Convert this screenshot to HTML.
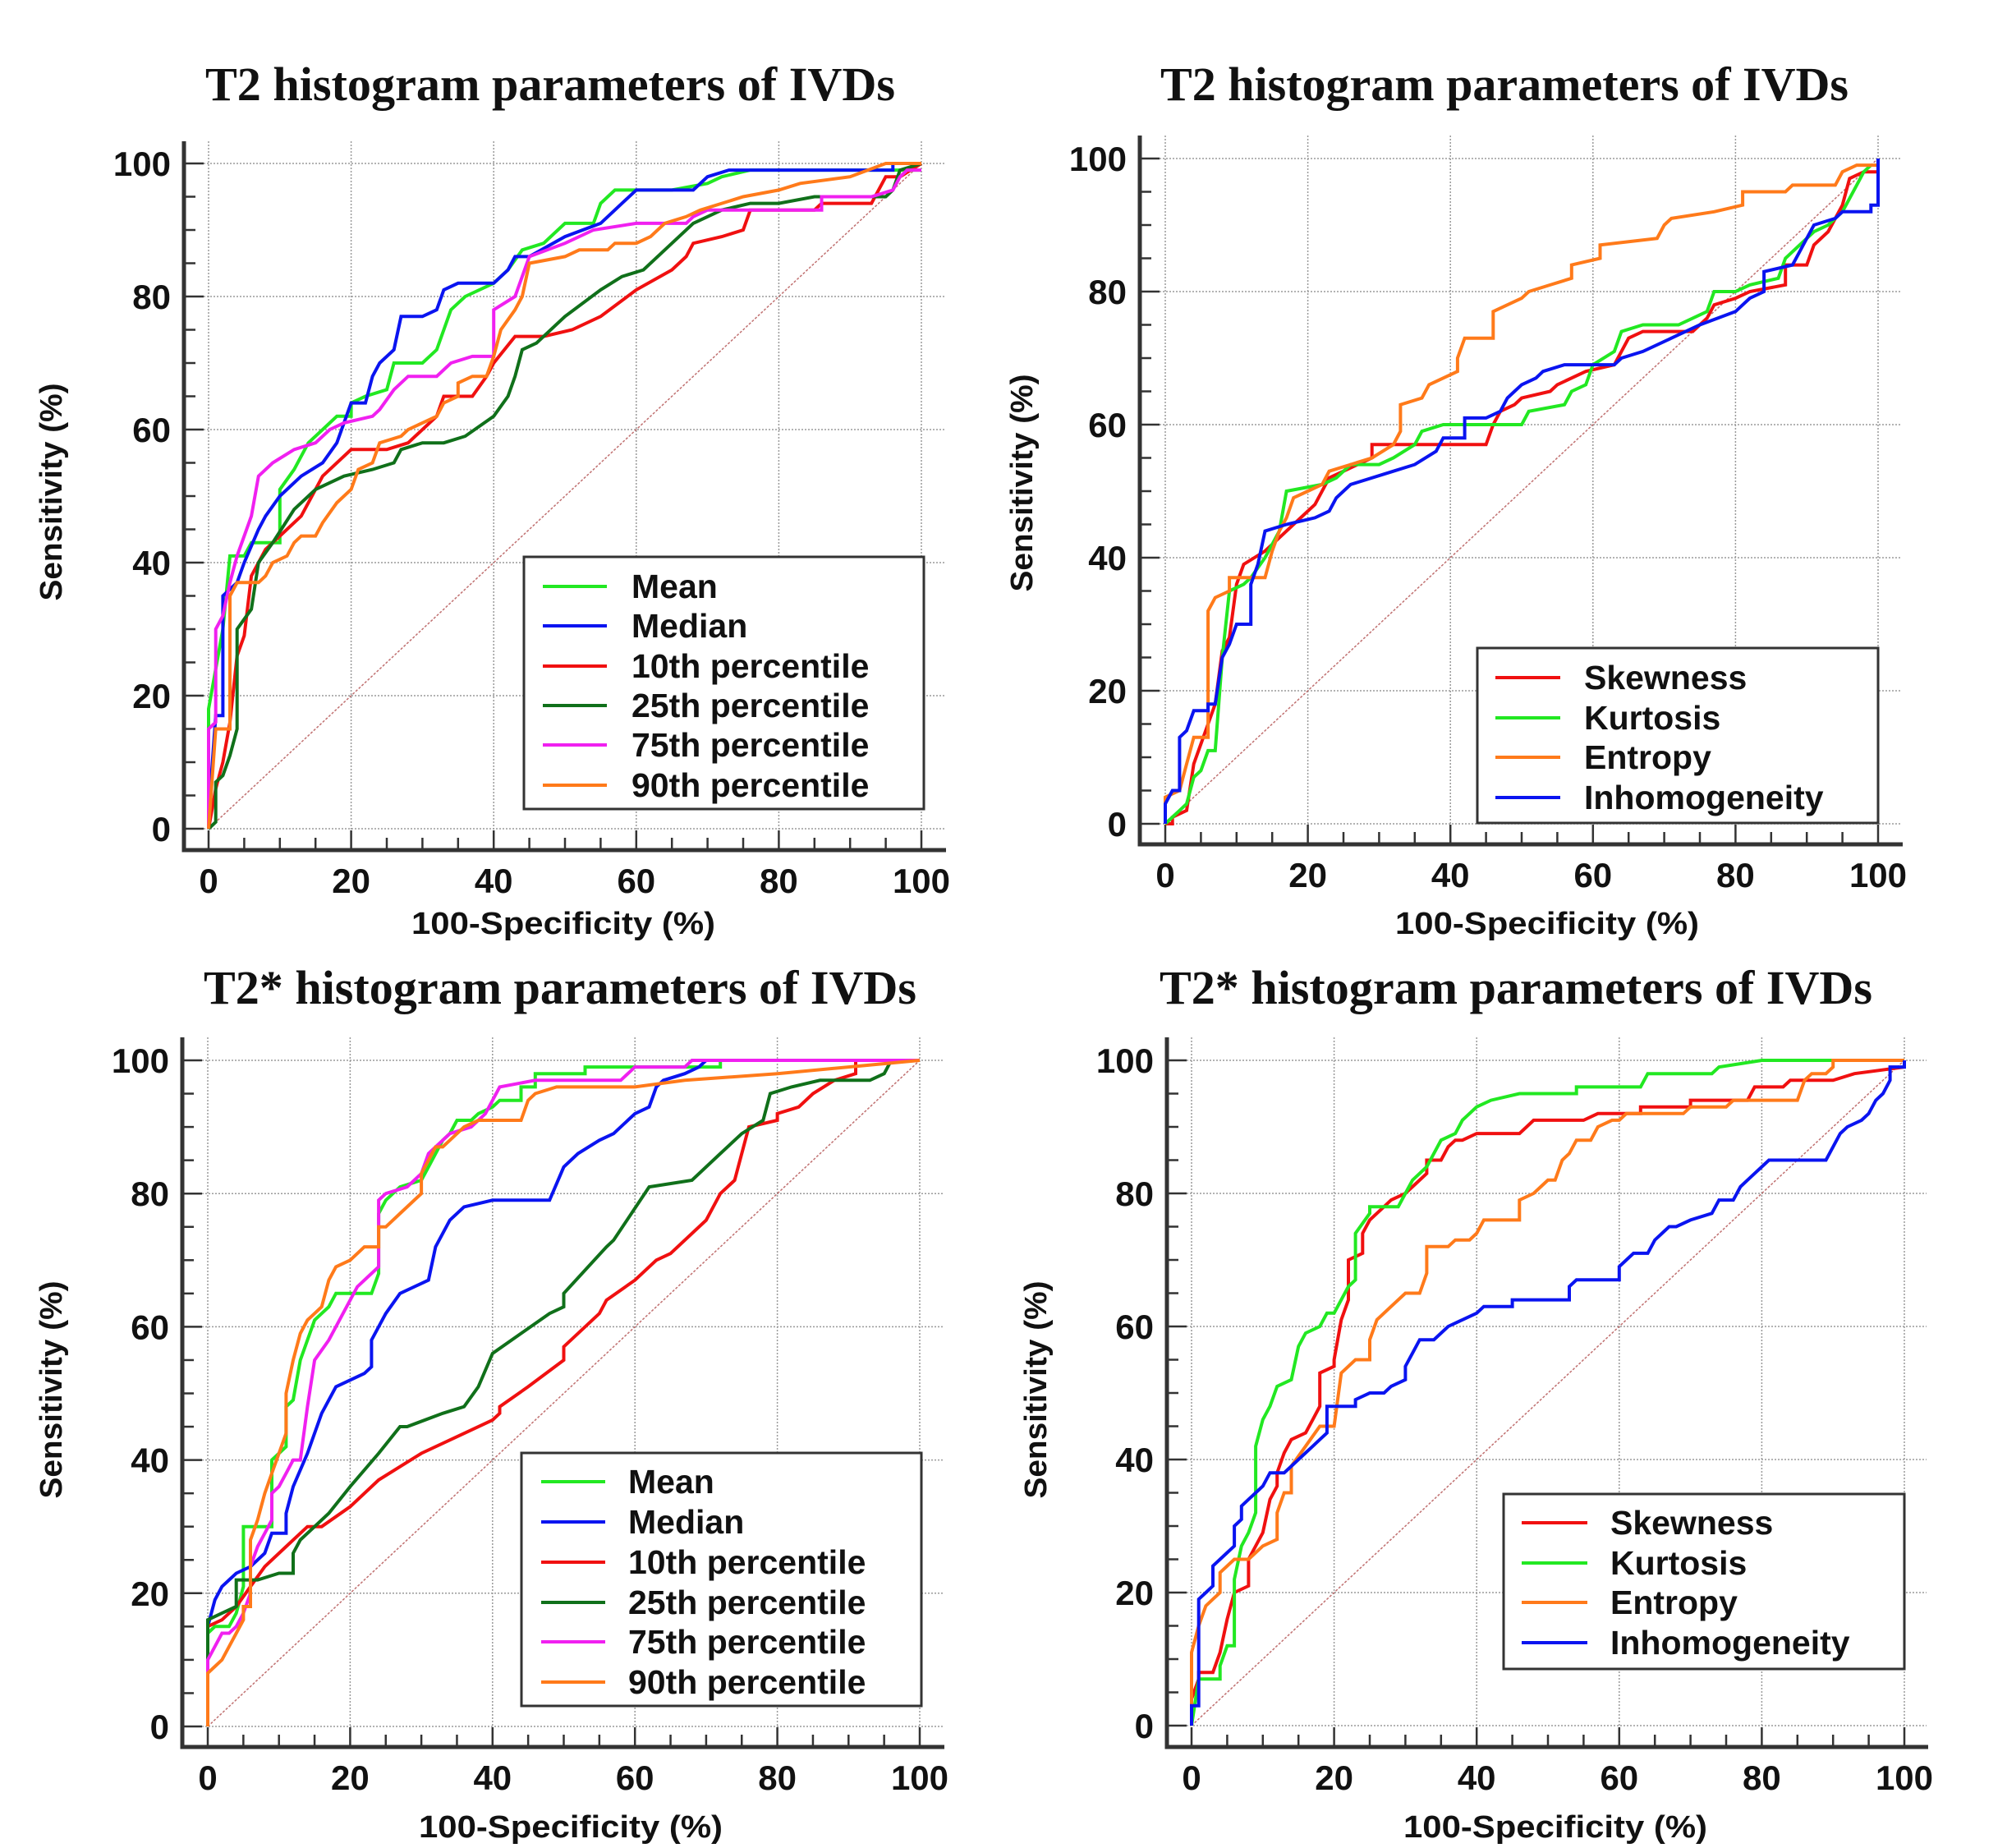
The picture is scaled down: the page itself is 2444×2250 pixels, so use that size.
<!DOCTYPE html>
<html><head><meta charset="utf-8"><style>
html,body{margin:0;padding:0;background:#fff;}
svg{display:block;}
text{font-family:"Liberation Sans",Arial,sans-serif;font-weight:bold;fill:#111;}
.title{font-family:"Liberation Serif","Times New Roman",serif;font-weight:bold;font-size:58px;}
</style></head><body>
<svg id="fig" width="2444" height="2250" viewBox="0 0 2444 2250" xmlns="http://www.w3.org/2000/svg"></svg>
<script>
// ---------- DATA (x = 100-Specificity %, y = Sensitivity %) ----------
const tickValues = [0,20,40,60,80,100];
const legendT2A = ["Mean","Median","10th percentile","25th percentile","75th percentile","90th percentile"];
const legendT2B = ["Skewness","Kurtosis","Entropy","Inhomogeneity"];

// Panel A: T2 first-order
const t2Mean = [[0,0],[0,18],[1,24],[2,30],[3,41],[5,41],[6,43],[10,43],[10,51],[12,54],[14,58],[16,60],[18,62],[20,62],[20,64],[22,65],[25,66],[26,70],[30,70],[32,72],[34,78],[36,80],[40,82],[42,84],[44,87],[47,88],[50,91],[54,91],[55,94],[57,96],[65,96],[70,97],[72,98],[76,99],[100,99]];
const t2Median = [[0,0],[0,2],[1,17],[2,17],[2,35],[4,37],[5,40],[7,45],[8,47],[10,50],[13,53],[16,55],[18,58],[20,64],[22,64],[23,68],[24,70],[26,72],[27,77],[30,77],[32,78],[33,81],[35,82],[40,82],[42,84],[43,86],[45,86],[50,89],[55,91],[58,94],[60,96],[68,96],[70,98],[73,99],[90,99],[96,99],[96,100],[100,100]];
const t2P10 = [[0,0],[1,6],[2,10],[3,16],[4,26],[5,29],[6,38],[8,42],[10,44],[13,47],[16,53],[20,57],[25,57],[28,58],[30,60],[32,62],[33,65],[37,65],[39,68],[40,70],[43,74],[47,74],[51,75],[55,77],[60,81],[65,84],[67,86],[68,88],[72,89],[75,90],[76,93],[85,93],[86,94],[93,94],[95,98],[97,98],[100,100]];
const t2P25 = [[0,0],[1,1],[1,7],[2,8],[3,11],[4,15],[4,30],[6,33],[7,40],[9,43],[12,48],[15,51],[19,53],[23,54],[26,55],[27,57],[30,58],[33,58],[36,59],[40,62],[42,65],[43,68],[44,72],[46,73],[50,77],[55,81],[58,83],[61,84],[65,88],[68,91],[72,93],[76,94],[80,94],[85,95],[95,95],[96,96],[97,99],[100,100]];
const t2P75 = [[0,0],[0,8],[0,15],[1,16],[1,30],[2,32],[3,37],[4,41],[6,47],[7,53],[9,55],[12,57],[15,58],[17,60],[19,61],[23,62],[24,63],[26,66],[28,68],[32,68],[34,70],[37,71],[40,71],[40,78],[43,80],[45,86],[50,88],[54,90],[60,91],[67,91],[68,92],[70,93],[86,93],[86,95],[93,95],[96,96],[97,98],[98,99],[100,99]];
const t2P90 = [[0,0],[1,15],[3,15],[3,35],[4,37],[7,37],[8,38],[9,40],[11,41],[12,43],[13,44],[15,44],[16,46],[18,49],[20,51],[21,54],[23,55],[24,58],[27,59],[28,60],[30,61],[32,62],[33,64],[35,65],[35,67],[37,68],[39,68],[40,71],[41,75],[43,78],[44,80],[45,85],[50,86],[52,87],[56,87],[57,88],[60,88],[62,89],[64,91],[67,92],[69,93],[72,94],[75,95],[80,96],[83,97],[90,98],[95,100],[100,100]];

// Panel B: T2 texture
const t2Skew = [[0,0],[1,0],[1,1],[3,2],[4,9],[5,12],[6,15],[7,18],[8,26],[9,28],[10,36],[11,39],[14,41],[16,43],[18,45],[19,46],[21,48],[23,52],[25,53],[29,55],[29,57],[45,57],[46,60],[47,62],[49,63],[50,64],[54,65],[55,66],[59,68],[63,69],[64,71],[65,73],[67,74],[74,74],[76,76],[77,78],[80,79],[82,80],[87,81],[87,84],[90,84],[91,87],[93,89],[95,93],[96,97],[98,98],[100,98],[100,100]];
const t2Kurt = [[0,0],[1,1],[2,2],[3,3],[4,7],[5,8],[6,11],[7,11],[8,25],[9,35],[11,36],[12,37],[14,40],[16,44],[17,50],[22,51],[24,52],[26,54],[30,54],[32,55],[35,57],[36,59],[39,60],[50,60],[51,62],[56,63],[57,65],[59,66],[60,69],[63,71],[64,74],[67,75],[72,75],[76,77],[77,80],[80,80],[82,81],[86,82],[87,85],[88,86],[91,89],[93,90],[95,92],[97,96],[98,98],[99,99]];
const t2Entropy = [[0,0],[0,4],[2,5],[3,9],[4,13],[6,13],[6,32],[7,34],[9,35],[9,37],[14,37],[15,41],[16,44],[17,46],[18,49],[20,50],[22,51],[23,53],[26,54],[29,55],[32,57],[33,59],[33,63],[36,64],[37,66],[39,67],[41,68],[41,70],[42,73],[46,73],[46,77],[48,78],[50,79],[51,80],[54,81],[57,82],[57,84],[61,85],[61,87],[69,88],[70,90],[71,91],[77,92],[81,93],[81,95],[87,95],[88,96],[94,96],[95,98],[97,99],[100,99],[100,100]];
const t2Inhom = [[0,0],[0,3],[1,5],[2,5],[2,13],[3,14],[4,17],[6,17],[6,18],[7,18],[8,25],[9,27],[10,30],[12,30],[12,36],[13,39],[14,44],[17,45],[21,46],[23,47],[24,49],[26,51],[32,53],[35,54],[38,56],[39,58],[42,58],[42,61],[45,61],[47,62],[48,64],[49,65],[50,66],[52,67],[53,68],[56,69],[63,69],[64,70],[67,71],[71,73],[75,75],[80,77],[81,78],[82,79],[84,80],[84,83],[88,84],[89,86],[90,88],[91,90],[94,91],[95,92],[99,92],[99,93],[100,93],[100,100]];

// Panel C: T2* first-order
const s2Mean = [[0,0],[0,14],[1,15],[3,15],[4,17],[5,21],[5,30],[9,30],[9,40],[10,41],[11,42],[11,48],[12,49],[13,55],[14,58],[15,61],[16,62],[17,63],[18,65],[23,65],[24,68],[24,77],[25,79],[27,81],[30,82],[31,84],[33,88],[34,89],[35,91],[37,91],[38,92],[40,93],[41,94],[44,94],[44,96],[46,96],[46,98],[53,98],[53,99],[72,99],[72,100]];
const s2Median = [[0,0],[0,15],[1,19],[2,21],[3,22],[4,23],[6,24],[8,26],[9,29],[11,29],[11,32],[12,36],[14,41],[16,47],[18,51],[22,53],[23,54],[23,58],[25,62],[27,65],[31,67],[32,72],[34,76],[36,78],[40,79],[48,79],[50,84],[52,86],[55,88],[57,89],[60,92],[62,93],[63,96],[64,97],[67,98],[69,99],[70,100],[100,100]];
const s2P10 = [[0,0],[0,15],[2,16],[4,18],[6,21],[8,24],[11,27],[14,30],[16,30],[20,33],[24,37],[27,39],[30,41],[36,44],[40,46],[41,47],[41,48],[45,51],[50,55],[50,57],[55,62],[56,64],[60,67],[63,70],[65,71],[70,76],[72,80],[74,82],[76,90],[80,91],[80,92],[83,93],[85,95],[88,97],[91,98],[91,100],[100,100]];
const s2P25 = [[0,0],[0,16],[2,17],[4,18],[4,22],[7,22],[10,23],[12,23],[12,26],[13,28],[17,32],[20,36],[24,41],[27,45],[28,45],[33,47],[36,48],[38,51],[40,56],[44,59],[48,62],[50,63],[50,65],[56,72],[57,73],[62,81],[68,82],[72,86],[75,89],[78,91],[79,95],[82,96],[86,97],[93,97],[95,98],[96,100],[100,100]];
const s2P75 = [[0,0],[0,10],[1,12],[2,14],[3,14],[4,15],[5,17],[6,20],[6,24],[7,27],[8,29],[9,31],[9,35],[10,36],[11,38],[12,40],[13,40],[14,48],[15,55],[17,58],[19,62],[21,66],[23,68],[24,69],[24,79],[25,80],[28,81],[30,83],[31,86],[33,88],[34,89],[37,90],[39,92],[40,94],[41,96],[46,97],[58,97],[60,99],[67,99],[68,100],[100,100]];
const s2P90 = [[0,0],[0,8],[1,9],[2,10],[3,12],[4,14],[5,16],[5,18],[6,18],[6,28],[7,31],[8,35],[9,38],[10,41],[11,44],[11,50],[12,55],[13,59],[14,61],[15,62],[16,63],[17,67],[18,69],[20,70],[21,71],[22,72],[24,72],[24,75],[25,75],[27,77],[28,78],[30,80],[30,83],[31,85],[32,87],[33,87],[34,88],[35,89],[36,90],[38,91],[44,91],[45,94],[46,95],[49,96],[60,96],[67,97],[80,98],[100,100]];

// Panel D: T2* texture
const s2Skew = [[0,0],[0,4],[1,7],[1,8],[3,8],[4,11],[5,16],[6,20],[8,21],[8,25],[9,27],[10,29],[11,34],[12,36],[12,38],[13,41],[14,43],[16,44],[17,46],[18,48],[18,53],[20,54],[20,55],[21,61],[22,64],[22,70],[24,71],[24,74],[25,76],[27,78],[28,79],[30,80],[31,81],[33,83],[33,85],[35,85],[36,87],[37,88],[38,88],[40,89],[46,89],[47,90],[48,91],[55,91],[57,92],[63,92],[63,93],[70,93],[70,94],[78,94],[79,96],[83,96],[84,97],[90,97],[93,98],[100,99],[100,100]];
const s2Kurt = [[0,0],[1,7],[4,7],[4,9],[5,12],[6,12],[6,21],[6,22],[7,27],[8,29],[9,32],[9,42],[10,46],[11,48],[12,51],[14,52],[15,57],[16,59],[18,60],[19,62],[20,62],[21,64],[22,66],[23,67],[23,74],[25,77],[25,78],[29,78],[30,80],[31,82],[33,84],[35,88],[37,89],[38,91],[40,93],[42,94],[46,95],[54,95],[54,96],[63,96],[64,98],[73,98],[74,99],[80,100],[100,100]];
const s2Entropy = [[0,0],[0,4],[0,11],[1,15],[2,18],[3,19],[4,20],[4,23],[5,24],[6,25],[8,25],[9,26],[10,27],[12,28],[12,32],[13,35],[14,35],[14,39],[16,42],[18,45],[20,45],[21,53],[23,55],[25,55],[25,58],[26,61],[28,63],[30,65],[32,65],[33,68],[33,72],[36,72],[37,73],[39,73],[40,74],[41,76],[46,76],[46,79],[48,80],[49,81],[50,82],[51,82],[52,85],[53,86],[54,88],[56,88],[57,90],[59,91],[60,91],[61,92],[69,92],[70,93],[75,93],[76,94],[85,94],[86,97],[87,98],[89,98],[90,99],[90,100],[100,100]];
const s2Inhom = [[0,0],[0,3],[1,3],[1,19],[2,20],[3,21],[3,24],[4,25],[5,26],[6,27],[6,30],[7,31],[7,33],[8,34],[9,35],[10,36],[11,38],[13,38],[14,39],[15,40],[16,41],[17,42],[18,43],[19,44],[19,48],[23,48],[23,49],[25,50],[27,50],[28,51],[30,52],[30,54],[31,56],[32,58],[34,58],[35,59],[36,60],[38,61],[40,62],[41,63],[45,63],[45,64],[53,64],[53,66],[54,67],[60,67],[60,69],[61,70],[62,71],[64,71],[65,73],[66,74],[67,75],[68,75],[70,76],[73,77],[74,79],[76,79],[77,81],[78,82],[79,83],[80,84],[81,85],[89,85],[90,87],[91,89],[92,90],[94,91],[95,92],[96,94],[97,95],[98,97],[98,99],[100,99],[100,100]];

// ---------- RENDER ----------
const NS = "http://www.w3.org/2000/svg";
const svg = document.getElementById("fig");
function mk(tag, attrs, parent, txt){
  const e = document.createElementNS(NS, tag);
  for (const k in attrs) e.setAttribute(k, attrs[k]);
  if (txt !== undefined) e.textContent = txt;
  (parent || svg).appendChild(e);
  return e;
}
const C = {green:"#22e822", blue:"#0a14f0", red:"#f01010", dgreen:"#10701a", mag:"#f020f0", orange:"#ff7a1a"};

const panels = [
  {id:"t2-first-order", title:"T2 histogram parameters of IVDs", tLen:840, tx:670, ty:122,
   x0:254, x100:1122, y0:1009, y100:199, spineL:224, spineB:1035, spineT:172, spineR:1152,
   ylabX:62, ylabY:599, xlabX:686, xlabY:1137,
   legend:{x:638,y:678,w:487,h:307,lx1:661,lx2:739,tx:769,rows:[714,762,811,859,907,956]},
   names:legendT2A, series:[t2Mean,t2Median,t2P10,t2P25,t2P75,t2P90], cols:[C.green,C.blue,C.red,C.dgreen,C.mag,C.orange]},
  {id:"t2-texture", title:"T2 histogram parameters of IVDs", tLen:838, tx:1832, ty:122,
   x0:1419, x100:2287, y0:1003, y100:193, spineL:1388, spineB:1028, spineT:165, spineR:2317,
   ylabX:1244, ylabY:588, xlabX:1884, xlabY:1137,
   legend:{x:1799,y:789,w:488,h:213,lx1:1821,lx2:1900,tx:1929,rows:[825,874,922,971]},
   names:legendT2B, series:[t2Skew,t2Kurt,t2Entropy,t2Inhom], cols:[C.red,C.green,C.orange,C.blue]},
  {id:"t2star-first-order", title:"T2* histogram parameters of IVDs", tLen:868, tx:682, ty:1222,
   x0:253, x100:1120, y0:2102, y100:1291, spineL:222, spineB:2127, spineT:1263, spineR:1150,
   ylabX:62, ylabY:1692, xlabX:695, xlabY:2237,
   legend:{x:635,y:1769,w:487,h:308,lx1:659,lx2:737,tx:765,rows:[1804,1853,1902,1951,1999,2048]},
   names:legendT2A, series:[s2Mean,s2Median,s2P10,s2P25,s2P75,s2P90], cols:[C.green,C.blue,C.red,C.dgreen,C.mag,C.orange]},
  {id:"t2star-texture", title:"T2* histogram parameters of IVDs", tLen:868, tx:1846, ty:1222,
   x0:1451, x100:2319, y0:2101, y100:1291, spineL:1421, spineB:2127, spineT:1263, spineR:2348,
   ylabX:1261, ylabY:1692, xlabX:1894, xlabY:2237,
   legend:{x:1831,y:1819,w:488,h:213,lx1:1853,lx2:1933,tx:1961,rows:[1854,1903,1951,2000]},
   names:legendT2B, series:[s2Skew,s2Kurt,s2Entropy,s2Inhom], cols:[C.red,C.green,C.orange,C.blue]}
];

panels.forEach(p => {
  const g = mk("g", {});
  
  
  const sx = v => p.x0 + (p.x100 - p.x0) * v / 100;
  const sy = v => p.y0 - (p.y0 - p.y100) * v / 100;

  const t = mk("text", {x:p.tx, y:p.ty, "text-anchor":"middle", "class":"title", textLength:p.tLen, lengthAdjust:"spacingAndGlyphs"}, g, p.title);
  
  

  tickValues.forEach(v => {
    const gx = mk("line", {x1:sx(v), x2:sx(v), y1:p.spineT, y2:p.spineB, stroke:"#9a9a9a", "stroke-width":1.5, "stroke-dasharray":"2,2"}, g);
    
    
    const gy = mk("line", {x1:p.spineL, x2:p.spineR - 2, y1:sy(v), y2:sy(v), stroke:"#9a9a9a", "stroke-width":1.5, "stroke-dasharray":"2,2"}, g);
    
    
  });

  const dg = mk("line", {x1:sx(0), y1:sy(0), x2:sx(100), y2:sy(100), stroke:"#c07070", "stroke-width":1.5, "stroke-dasharray":"3,2"}, g);
  
  

  for (let v = 0; v <= 100; v += 5) {
    const major = v % 20 === 0;
    const tx = mk("line", {x1:sx(v), x2:sx(v), y1:p.spineB, y2:p.spineB - (major ? 24 : 15), stroke:"#333", "stroke-width":2.5}, g);
    
    
    const ty = mk("line", {x1:p.spineL, x2:p.spineL + (major ? 24 : 14), y1:sy(v), y2:sy(v), stroke:"#333", "stroke-width":2.5}, g);
    
    
  }
  tickValues.forEach(v => {
    const lx = mk("text", {x:sx(v), y:p.spineB + 52, "text-anchor":"middle", "font-size":42}, g, String(v));
    
    
    const ly = mk("text", {x:p.spineL - 16, y:sy(v) + 15, "text-anchor":"end", "font-size":42}, g, String(v));
    
    
  });

  const sL = mk("line", {x1:p.spineL, x2:p.spineL, y1:p.spineT, y2:p.spineB + 2.5, stroke:"#333", "stroke-width":5}, g);
  
  
  const sB = mk("line", {x1:p.spineL - 2.5, x2:p.spineR, y1:p.spineB, y2:p.spineB, stroke:"#333", "stroke-width":5}, g);
  
  

  const xt = mk("text", {x:p.xlabX, y:p.xlabY, "text-anchor":"middle", "font-size":38, textLength:370, lengthAdjust:"spacingAndGlyphs"}, g, "100-Specificity (%)");
  
  
  const yt = mk("text", {x:0, y:0, "text-anchor":"middle", "font-size":38, textLength:265, lengthAdjust:"spacingAndGlyphs", transform:`translate(${p.ylabX + 13},${p.ylabY}) rotate(-90)`}, g, "Sensitivity (%)");
  
  

  p.series.forEach((s, i) => {
    const pts = s.map(d => sx(d[0]).toFixed(1) + "," + sy(d[1]).toFixed(1)).join(" ");
    const pl = mk("polyline", {points:pts, fill:"none", stroke:p.cols[i], "stroke-width":4, "stroke-linejoin":"miter"}, g);
    
    
  });

  const L = p.legend;
  const lg = mk("g", {}, g);
  
  
  const box = mk("rect", {x:L.x, y:L.y, width:L.w, height:L.h, fill:"#fff", stroke:"#333", "stroke-width":3}, lg);
  
  
  p.names.forEach((n, i) => {
    const ln = mk("line", {x1:L.lx1, x2:L.lx2, y1:L.rows[i], y2:L.rows[i], stroke:p.cols[i], "stroke-width":4}, lg);
    
    
    const tx = mk("text", {x:L.tx, y:L.rows[i] + 14, "font-size":41}, lg, n);
    
    
  });
});
</script>
</body></html>
